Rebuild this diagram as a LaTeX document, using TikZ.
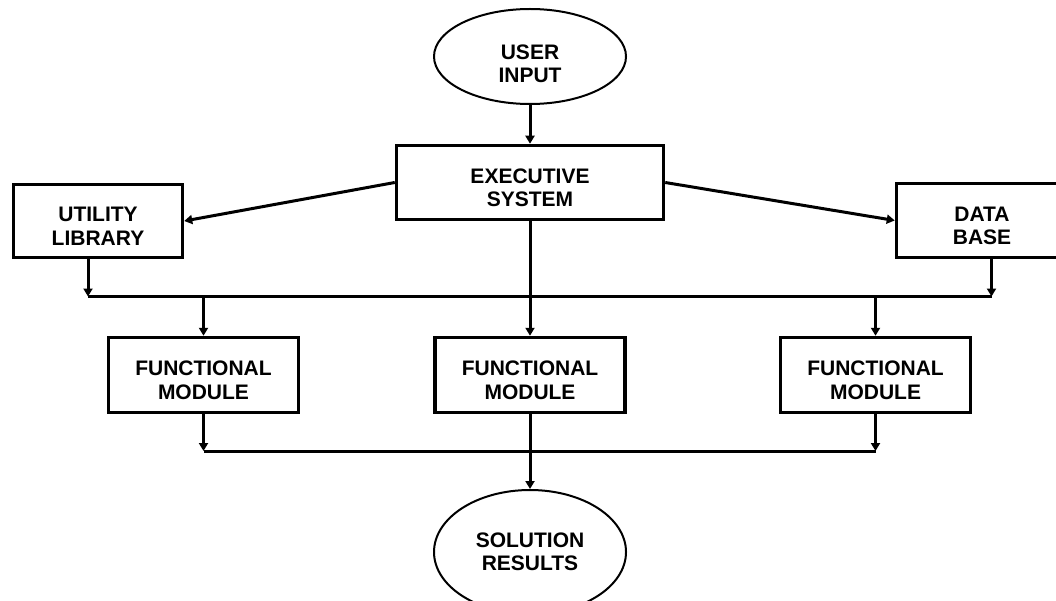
\documentclass[tikz,border=0pt]{standalone}
\usepackage{fontspec}
\setmainfont{Liberation Sans}
\usetikzlibrary{arrows.meta,shapes.geometric}
\newcommand{\upstrut}[1]{\rule{0pt}{#1}}
\begin{document}
\begin{tikzpicture}[x=1pt,y=-1pt,
  txt/.style={font=\fontsize{21}{23.3}\selectfont\bfseries, align=center, inner sep=0pt},
  boxnode/.style={txt, draw, line width=3.5pt, rectangle},
  ovalnode/.style={txt, draw, line width=2pt, ellipse},
  conn/.style={line width=3pt},
  arr/.style={conn, -{Triangle[length=8pt,width=9pt]}}]
\useasboundingbox (0,0) rectangle (1056,601);
% nodes
\node[ovalnode, minimum width=192pt, minimum height=95pt] (user) at (530,56.5) {\upstrut{29pt}USER\\INPUT};
\node[boxnode, minimum width=267pt, minimum height=74pt] (exec) at (530,182.5) {\upstrut{25pt}EXECUTIVE\\SYSTEM};
\node[boxnode, minimum width=169pt, minimum height=73pt] (util) at (98,221) {\upstrut{25pt}UTILITY\\LIBRARY};
\node[boxnode, minimum width=171pt, minimum height=74pt] (data) at (982,220.5) {\upstrut{25pt}DATA\\BASE};
\node[boxnode, minimum width=190pt, minimum height=75pt] (lf) at (203.5,375) {\upstrut{25pt}FUNCTIONAL\\MODULE};
\node[boxnode, minimum width=190pt, minimum height=75pt] (mf) at (530,375) {\upstrut{25pt}FUNCTIONAL\\MODULE};
\node[boxnode, minimum width=190pt, minimum height=75pt] (rf) at (875.5,375) {\upstrut{25pt}FUNCTIONAL\\MODULE};
\node[ovalnode, minimum width=192pt, minimum height=124pt] (sol) at (530,552) {SOLUTION\\RESULTS};
% bus coordinates
\coordinate (busL) at (88,296.5);
\coordinate (busR) at (991.5,296.5);
\coordinate (busB) at (530,451);
% connectors
\draw[arr] (user) -- (exec);
\draw[arr] (exec.west) -- (util.east);
\draw[arr] (exec.east) -- (data.west);
\draw[arr] (busL |- util.south) -- (busL);
\draw[arr] (busR |- data.south) -- (busR);
\draw[conn] (busL) -- (busR);
\draw[arr] (exec) -- (mf);
\draw[arr] (lf.north |- busL) -- (lf.north);
\draw[arr] (rf.north |- busR) -- (rf.north);
\draw[arr] (lf.south) -- (lf.south |- busB);
\draw[arr] (rf.south) -- (rf.south |- busB);
\draw[conn] (lf.south |- busB) -- (rf.south |- busB);
\draw[arr] (mf) -- (sol);
\end{tikzpicture}
\end{document}
